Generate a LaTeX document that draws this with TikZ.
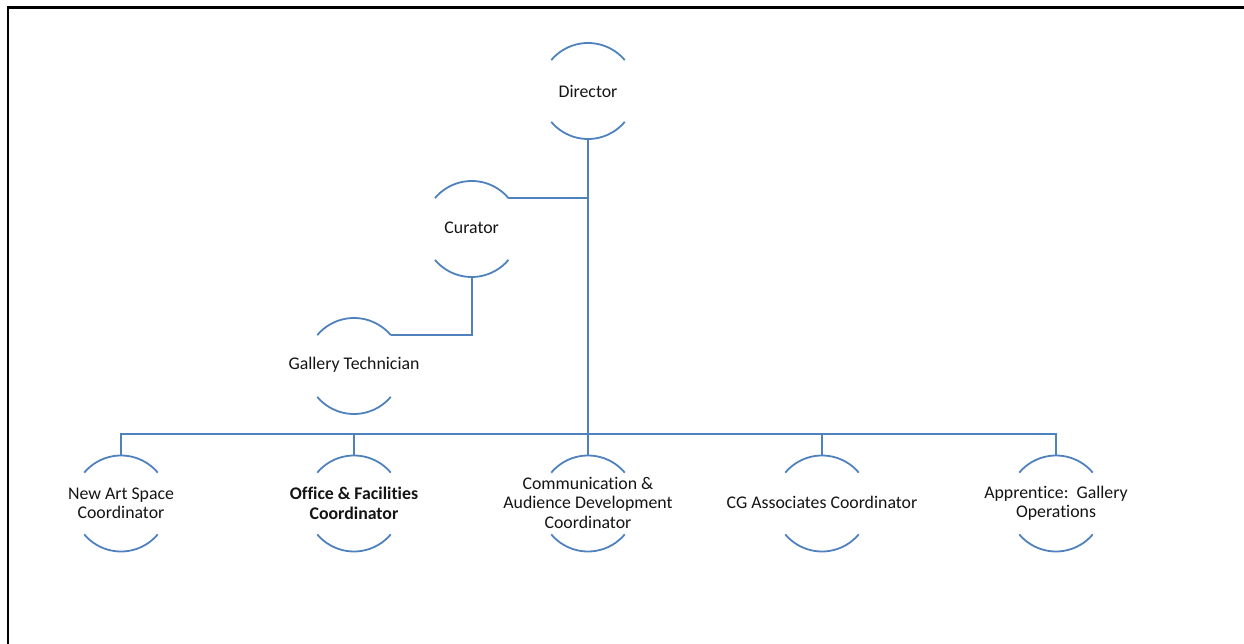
\documentclass[tikz,border=0pt]{standalone}
\usepackage{fontspec}
\setmainfont{Carlito}[Ligatures=NoCommon]
\definecolor{orgblue}{RGB}{79,129,189}
\definecolor{txtcol}{RGB}{20,20,20}
\begin{document}
\begin{tikzpicture}[x=1pt,y=1pt,
  role/.style={circle,minimum size=96pt,inner sep=0pt,outer sep=0pt},
  txt/.style={align=center,text=txtcol,font=\fontsize{17.8pt}{19.5pt}\selectfont,inner sep=0pt},
  arcline/.style={draw=orgblue,line width=1.8pt},
  conn/.style={draw=orgblue,line width=1.8pt}]
\useasboundingbox (0,0) rectangle (1244,643);
% frame
\draw[line width=2.4pt,line cap=rect] (7.8,0) -- (7.8,635.3) -- (1244,635.3);
% role placeholders
\node[role] (dir) at (588,552) {};
\node[role] (cur) at (471.7,414) {};
\node[role] (gt) at (354,277) {};
\node[role] (nas) at (121,139.5) {};
\node[role] (ofc) at (354,139.5) {};
\node[role] (com) at (588,139.5) {};
\node[role] (cga) at (822,139.5) {};
\node[role] (app) at (1056,139.5) {};
% arcs
\foreach \n in {dir,cur,gt,nas,ofc,com,cga,app}{
  \draw[arcline] (\n.40) arc[start angle=40,end angle=140,radius=48pt];
  \draw[arcline] (\n.220) arc[start angle=220,end angle=320,radius=48pt];
}
% texts
\node[txt] (tdir) at (dir.center) {Director};
\node[txt] (tcur) at ([yshift=1pt]cur.center) {Curator};
\node[txt] (tgt) at ([yshift=1pt]gt.center) {Gallery Technician};
\node[txt] (tnas) at (nas.center) {New Art Space\\Coordinator};
\node[txt,font=\fontsize{17.8pt}{19.5pt}\selectfont\bfseries] (tofc) at (ofc.center) {Office \& Facilities\\Coordinator};
\node[txt] (tcom) at ([yshift=1pt]com.center) {Communication \&\\Audience Development\\Coordinator};
\node[txt] (tcga) at ([yshift=1pt]cga.center) {CG Associates Coordinator};
\node[txt] (tapp) at (app.center) {Apprentice:\ \ Gallery\\Operations};
% connectors
\coordinate (bus) at (0,209);
\draw[conn] (dir.south) -- (dir.south |- bus);
\draw[conn] (cur.40) -- (cur.40 -| dir.south);
\draw[conn] (gt.40) -| (cur.south);
\draw[conn] (nas.north) -- (nas.north |- bus) -- (app.north |- bus) -- (app.north);
\draw[conn] (ofc.north) -- (ofc.north |- bus);
\draw[conn] (com.north) -- (com.north |- bus);
\draw[conn] (cga.north) -- (cga.north |- bus);
\end{tikzpicture}
\end{document}
